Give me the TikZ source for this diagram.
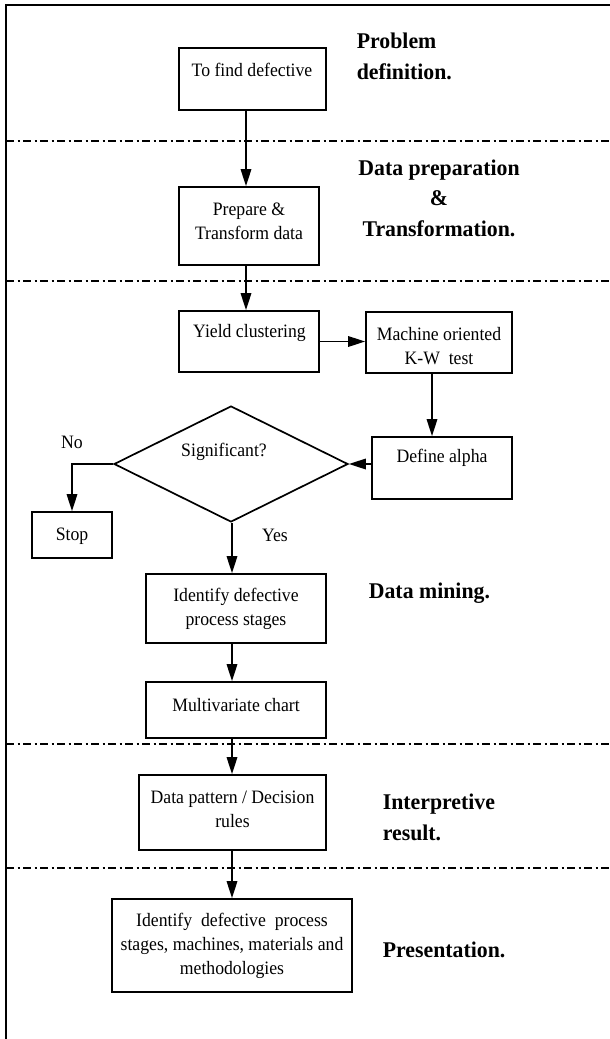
\documentclass[tikz,border=0pt]{standalone}
\usepackage{fontspec}
\setmainfont{Liberation Serif}
\usetikzlibrary{arrows.meta,shapes.geometric}

\begin{document}
\begin{tikzpicture}[x=1pt,y=-1pt,line width=1.7pt,
  box/.style 2 args={draw,rectangle,inner sep=0pt,minimum width=#1,minimum height=#2},
  dia/.style={draw,diamond,inner sep=0pt,minimum width=234pt,minimum height=116pt},
  txt/.style={font=\fontsize{17.7}{22.4}\selectfont,align=center,inner sep=0pt,yscale=1.07},
  lbl/.style={font=\bfseries\fontsize{21.8}{29.5}\selectfont,inner sep=0pt,yscale=1.03},
  arr/.style={-{Triangle[length=17pt,width=10.5pt]}},
  sep/.style={line width=1.6pt,dash pattern=on 8pt off 3.5pt on 2pt off 3.5pt},
]
\useasboundingbox (0,0) rectangle (610,1039);

% outer frame (top and left edges)
\draw (610,5) -- (6,5) -- (6,1039);

% phase separators
\foreach \yy in {141,281,744,868} \draw[sep] (6,\yy) -- (610,\yy);

% columns used by the vertical connectors
\coordinate (cA) at (246,0);
\coordinate (cB) at (232,0);
\coordinate (cC) at (432,0);

% process boxes
\node[box={147pt}{62pt}] (b1) at (252.5,79) {};
\node[txt] (t1) at (252,70) {To find defective};
\node[box={140pt}{78pt}] (b2) at (249,226) {};
\node[txt] (t2) at (249,221) {Prepare \&\\Transform data};
\node[box={140pt}{61pt}] (b3) at (249,341.5) {};
\node[txt] (t3) at (249.5,333) {Yield clustering};
\node[box={146pt}{61pt}] (b4) at (439,342.5) {};
\node[txt] (t4) at (439,346) {Machine oriented\\K-W\ \ test};
\node[box={140pt}{62pt}] (b5) at (442,468) {};
\node[txt] (t5) at (442,458) {Define alpha};
\node[dia] (d) at (231,464) {};
\node[txt] (t6) at (224,452) {Significant?};
\node[box={80pt}{46pt}] (stop) at (72,535) {};
\node[txt] (t7) at (72,536) {Stop};
\node[box={180pt}{69pt}] (b6) at (236,608.5) {};
\node[txt] (t8) at (236,608.5) {Identify defective\\process stages};
\node[box={180pt}{56pt}] (b7) at (236,710) {};
\node[txt] (t9) at (236,705) {Multivariate chart};
\node[box={187pt}{75pt}] (b8) at (232.5,812.5) {};
\node[txt] (t10) at (232.5,809.5) {Data pattern / Decision\\rules};
\node[box={240pt}{93pt}] (b9) at (232,945.5) {};
\node[txt] (t11) at (232,946) {Identify\hspace{0.5em}defective\hspace{0.5em}process\\stages, machines, materials and\\methodologies};

% branch labels
\node[txt] (no) at (72,442) {No};
\node[txt] (yes) at (275,535) {Yes};

% phase labels
\node[lbl,anchor=west,align=left] (L1) at (356,56.5) {Problem\\definition.};
\node[lbl,align=center] (L2) at (439,198) {Data preparation\\\&\\Transformation.};
\node[lbl,anchor=west] (L3) at (368,593) {Data mining.};
\node[lbl,anchor=west,align=left] (L4) at (382,817.5) {Interpretive\\result.};
\node[lbl,anchor=west] (L5) at (382,950) {Presentation.};

% connectors
\draw[arr] (b1.south -| cA) -- (b2.north -| cA);
\draw[arr] (b2.south -| cA) -- (b3.north -| cA);
\draw[arr] (b3.east) -- (b3.east -| b4.west);
\draw[arr] (b4.south -| cC) -- (b5.north -| cC);
\draw[arr] (b5.west |- d.east) -- (d.east);
\draw[arr] (d.west) -| (stop.north);
\draw[arr] (d.south -| cB) -- (b6.north -| cB);
\draw[arr] (b6.south -| cB) -- (b7.north -| cB);
\draw[arr] (b7.south -| cB) -- (b8.north -| cB);
\draw[arr] (b8.south -| cB) -- (b9.north -| cB);
\end{tikzpicture}
\end{document}
